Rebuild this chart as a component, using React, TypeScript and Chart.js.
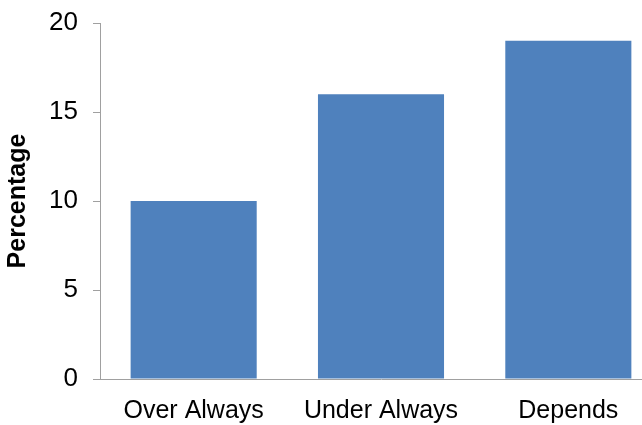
import React, { useEffect, useRef } from "react";
import { Chart, registerables } from "chart.js";

Chart.register(...registerables);

const categories = ["Over Always", "Under Always", "Depends"];
const percentages = [10, 16, 19];
const yTicks = [0, 5, 10, 15, 20];

const FONT = "'Liberation Sans', Arial, sans-serif";
const AXIS = "#a0a0a0";

export default function App() {
  const ref = useRef<HTMLCanvasElement | null>(null);

  useEffect(() => {
    if (!ref.current) return;
    const chart = new Chart(ref.current, {
      type: "bar",
      data: {
        labels: categories,
        datasets: [
          {
            data: percentages,
            backgroundColor: "#4f81bd",
            borderWidth: 0,
            barPercentage: 0.673,
            categoryPercentage: 1,
          },
        ],
      },
      options: {
        responsive: false,
        animation: false,
        layout: { padding: { top: 23, right: 0, bottom: 0, left: 0 } },
        plugins: { legend: { display: false }, tooltip: { enabled: false } },
        scales: {
          x: {
            grid: { drawOnChartArea: false, drawTicks: false, color: AXIS },
            border: { display: true, color: AXIS, width: 1 },
            ticks: {
              color: "#000",
              font: { family: FONT, size: 25 },
              padding: 17,
              maxRotation: 0,
            },
            afterFit: (s: any) => {
              s.height = 46;
            },
          },
          y: {
            min: 0,
            max: 20,
            afterBuildTicks: (s: any) => {
              s.ticks = yTicks.map((v) => ({ value: v }));
            },
            grid: {
              drawOnChartArea: false,
              drawTicks: true,
              tickLength: 7,
              color: AXIS,
            },
            border: { display: true, color: AXIS, width: 1 },
            ticks: {
              color: "#000",
              font: { family: FONT, size: 26 },
              padding: 15,
            },
            title: {
              display: true,
              text: "Percentage",
              color: "#000",
              font: { family: FONT, size: 25, weight: "bold" },
              padding: { top: 3, bottom: 0 },
            },
            afterFit: (s: any) => {
              s.width = 100;
              s.paddingTop = 0;
              s.paddingBottom = 0;
            },
          },
        },
      },
    });
    return () => chart.destroy();
  }, []);

  return (
    <div
      style={{
        position: "fixed",
        left: 0,
        top: 0,
        width: 642,
        height: 425,
        overflow: "hidden",
        background: "#fff",
      }}
    >
      <canvas ref={ref} width={662} height={425} style={{ display: "block" }} />
    </div>
  );
}
